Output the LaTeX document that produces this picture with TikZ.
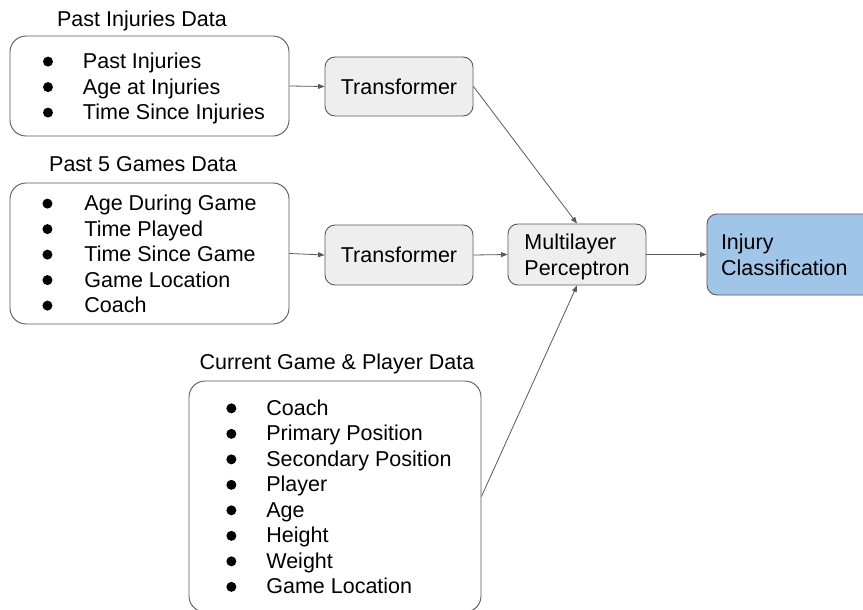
\documentclass[tikz,border=0pt]{standalone}
\usepackage{fontspec}
\setmainfont{Liberation Sans}
\usetikzlibrary{arrows.meta}
\definecolor{edge}{HTML}{595959}
\definecolor{boxfill}{HTML}{EEEEEE}
\definecolor{clsfill}{HTML}{9FC5E8}
\newcommand{\blt}{\raisebox{2pt}{\tikz\fill (0,0) circle (5pt);}}
\newcommand{\lowered}[1]{\raisebox{-3pt}[\height][\depth]{#1}}
\tikzset{
  txt/.style={font=\fontsize{21.5}{25.5}\selectfont, text=black},
  listbox/.style={txt, draw=edge, line width=0.9pt, rounded corners=16pt, inner sep=0pt},
  procbox/.style={txt, draw=edge, line width=0.9pt, rounded corners=10pt, fill=boxfill, inner sep=0pt, align=left},
  clsbox/.style={txt, draw=edge, line width=0.9pt, rounded corners=10pt, fill=clsfill, inner sep=0pt, align=left},
  title/.style={txt, inner sep=0pt},
  conn/.style={draw=edge, line width=0.8pt, -{Triangle[length=6.5pt,width=5pt]}}
}
\begin{document}
\begin{tikzpicture}[x=1pt,y=-1pt]
\useasboundingbox (0,0) rectangle (863,610);
% list boxes
\node[listbox, minimum width=279pt, minimum height=100pt] (inj) at (149.5,86)
  {\lowered{\hspace*{9pt}\begin{tabular}{@{}c@{\hspace{30pt}}l@{}}\blt & Past Injuries\\ \blt & Age at Injuries\\ \blt & Time Since Injuries\end{tabular}}};
\node[title] (injt) at (142,21) {Past Injuries Data};
\node[listbox, minimum width=279pt, minimum height=141pt] (games) at (149.5,253.5)
  {\lowered{\begin{tabular}{@{}c@{\hspace{32pt}}l@{}}\blt & Age During Game\\ \blt & Time Played\\ \blt & Time Since Game\\ \blt & Game Location\\ \blt & Coach\end{tabular}}};
\node[title] (gamest) at (143,164) {Past 5 Games Data};
\node[listbox, minimum width=292pt, minimum height=231pt] (cur) at (335,496.5)
  {\lowered{\hspace*{8pt}\begin{tabular}{@{}c@{\hspace{30pt}}l@{}}\blt & Coach\\ \blt & Primary Position\\ \blt & Secondary Position\\ \blt & Player\\ \blt & Age\\ \blt & Height\\ \blt & Weight\\ \blt & Game Location\end{tabular}}};
\node[title] (curt) at (337,364) {Current Game \& Player Data};
% processing boxes
\node[procbox, minimum width=148pt, minimum height=59pt] (t1) at (399,86.5) {Transformer};
\node[procbox, minimum width=148pt, minimum height=60pt] (t2) at (399,255) {Transformer};
\node[procbox, minimum width=138pt, minimum height=61pt] (mlp) at (577,254.5) {\lowered{\begin{tabular}{@{}l@{}}Multilayer\\Perceptron\end{tabular}}};
\node[clsbox, minimum width=166pt, minimum height=81pt, text width=138pt] (cls) at (790,254.5) {\lowered{\begin{tabular}{@{}l@{}}Injury\\Classification\end{tabular}}};
% connectors
\draw[conn] (inj.east) -- (t1.west);
\draw[conn] (games.east) -- (t2.west);
\draw[conn] (t2.east) -- (mlp.west);
\draw[conn] (mlp.east) -- (cls.west);
\draw[conn] (t1.east) -- (mlp.north);
\draw[conn] (cur.east) -- (mlp.south);
\end{tikzpicture}
\end{document}
